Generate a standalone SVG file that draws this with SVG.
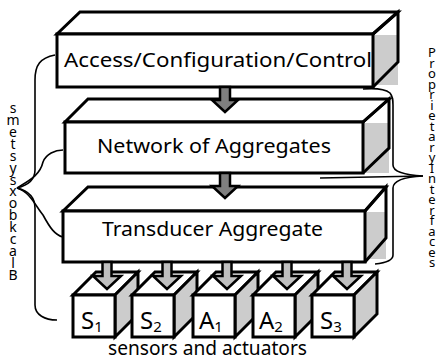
<svg xmlns="http://www.w3.org/2000/svg" width="438" height="360" viewBox="0 0 438 360">
<style>
.ol{fill:none;stroke:#000;stroke-width:3;stroke-linejoin:miter}
.wf{fill:#fff;stroke:#000;stroke-width:3}
.gr{fill:#cccccc;stroke:none}
.gs{fill:#cccccc;stroke:#000;stroke-width:3}
.lbl{font-family:"Noto Sans","Open Sans",sans-serif;font-size:19px;fill:#000}
.cl{font-family:"Noto Sans","Open Sans",sans-serif;font-size:24px;fill:#000}
.sub{font-size:15px}
.sideL{font-family:"Noto Sans","Open Sans",sans-serif;font-size:14px;fill:#000;text-anchor:middle}
.sideR{font-family:"Noto Sans","Open Sans",sans-serif;font-size:13px;fill:#000;text-anchor:middle}
.br{fill:none;stroke:#000;stroke-width:1.6}
.ab{fill:#7f7f7f;stroke:#000;stroke-width:2.5;stroke-linejoin:miter}
.as{fill:#c0c0c0;stroke:#000;stroke-width:2.5;stroke-linejoin:miter}
</style>
<defs>
<path id="bigArrow" d="M-5,0 V13 H-13 L0,25 L13,13 H5 V0 Z"/>
<path id="smallArrow" d="M-4.5,0 V14 H-14 L0,27 L14,14 H4.5 V0 Z"/>
<g id="cube">
<polygon class="wf" points="0,0 23,-23 65,-23 42,0"/>
<polygon class="gs" points="42,0 65,-23 65,19 42,42"/>
<rect class="wf" x="0" y="0" width="42" height="42"/>
</g>
</defs>

<g id="box-access">
<rect class="gr" x="373" y="35" width="25" height="50"/>
<polygon class="wf" points="57,34 80,12 398,12 373,34"/>
<polyline class="ol" points="373,34 398,12 398,62 373,87"/>
<rect class="wf" x="57" y="34" width="316" height="53"/>
<text class="lbl" x="64" y="67" textLength="308" lengthAdjust="spacingAndGlyphs">Access/Configuration/Control</text>
</g>

<g id="box-network">
<rect class="gr" x="363" y="123" width="26" height="50"/>
<polygon class="wf" points="65,122 88,99 389,99 363,122"/>
<polyline class="ol" points="363,122 389,99 389,148 363,173"/>
<rect class="wf" x="65" y="122" width="298" height="51"/>
<text class="lbl" x="97" y="153" textLength="234" lengthAdjust="spacingAndGlyphs">Network of Aggregates</text>
</g>

<g id="box-transducer">
<rect class="gr" x="365" y="212" width="21" height="47"/>
<polygon class="wf" points="63,211 88,187 386,187 365,211"/>
<polyline class="ol" points="365,211 386,187 386,238 365,262"/>
<rect class="wf" x="63" y="211" width="302" height="51"/>
<text class="lbl" x="102" y="236" textLength="221" lengthAdjust="spacingAndGlyphs">Transducer Aggregate</text>
</g>

<g id="cube-s1">
<use href="#cube" x="73" y="295"/>
<text class="cl" x="81" y="329">S<tspan class="sub" dy="3">1</tspan></text>
</g>
<g id="cube-s2">
<use href="#cube" x="132" y="295"/>
<text class="cl" x="140" y="329">S<tspan class="sub" dy="3">2</tspan></text>
</g>
<g id="cube-a1">
<use href="#cube" x="193" y="295"/>
<text class="cl" x="199" y="329">A<tspan class="sub" dy="3">1</tspan></text>
</g>
<g id="cube-a2">
<use href="#cube" x="253" y="295"/>
<text class="cl" x="259" y="329">A<tspan class="sub" dy="3">2</tspan></text>
</g>
<g id="cube-s3">
<use href="#cube" x="312" y="295"/>
<text class="cl" x="320" y="329">S<tspan class="sub" dy="3">3</tspan></text>
</g>

<g id="connectors">
<use href="#bigArrow" class="ab" x="225" y="87"/>
<use href="#bigArrow" class="ab" x="225" y="173"/>
<use href="#smallArrow" class="as" x="107" y="262"/>
<use href="#smallArrow" class="as" x="167" y="262"/>
<use href="#smallArrow" class="as" x="227" y="262"/>
<use href="#smallArrow" class="as" x="287" y="262"/>
<use href="#smallArrow" class="as" x="347" y="262"/>
<path class="br" d="M55,55 C40,58 35,65 35,80 V170 C35,182 25,186 17,188 C25,190 35,195 35,208 V305 C35,315 45,320 57,320"/>
<path class="br" d="M17,188 C30,180 40,175 43,162 C46,154 55,150 63,150"/>
<path class="br" d="M17,188 C30,192 35,205 43,215 C50,228 55,235 63,237"/>
<path class="br" d="M363,89 C375,88 385,89 390,93 C393,97 393,100 393,105 V165 C393,172 405,175 423,176 C405,177 393,180 393,188 V255 C393,260 385,263 375,264"/>
<line class="br" x1="320" y1="178" x2="423" y2="176"/>
</g>

<text class="lbl" x="108" y="355" font-size="18" textLength="199" lengthAdjust="spacingAndGlyphs">sensors and actuators</text>

<text class="sideL"><tspan x="13" y="113">s</tspan><tspan x="13" y="125">m</tspan><tspan x="13" y="137">e</tspan><tspan x="13" y="149">t</tspan><tspan x="13" y="161">s</tspan><tspan x="13" y="173">y</tspan><tspan x="13" y="185">s</tspan><tspan x="13" y="196">x</tspan><tspan x="13" y="208">o</tspan><tspan x="13" y="220">b</tspan><tspan x="13" y="232">k</tspan><tspan x="13" y="244">c</tspan><tspan x="13" y="256">a</tspan><tspan x="13" y="268">l</tspan><tspan x="13" y="280">B</tspan></text>

<text class="sideR"><tspan x="432" y="57">P</tspan><tspan x="432" y="67.5">r</tspan><tspan x="432" y="78">o</tspan><tspan x="432" y="88.5">p</tspan><tspan x="432" y="99">r</tspan><tspan x="432" y="109.5">i</tspan><tspan x="432" y="120">e</tspan><tspan x="432" y="130.5">t</tspan><tspan x="432" y="141">a</tspan><tspan x="432" y="151.5">r</tspan><tspan x="432" y="162">y</tspan><tspan x="432" y="172.5">I</tspan><tspan x="432" y="183">n</tspan><tspan x="432" y="193.5">t</tspan><tspan x="432" y="204">e</tspan><tspan x="432" y="214.5">r</tspan><tspan x="432" y="225">f</tspan><tspan x="432" y="235.5">a</tspan><tspan x="432" y="246">c</tspan><tspan x="432" y="256.5">e</tspan><tspan x="432" y="267">s</tspan></text>
</svg>
